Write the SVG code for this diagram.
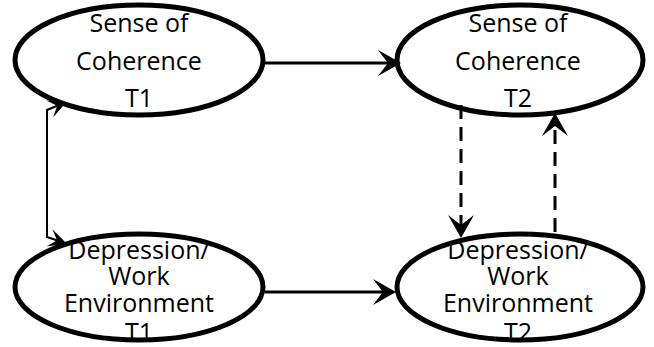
<svg xmlns="http://www.w3.org/2000/svg" width="654" height="347" viewBox="0 0 654 347">
  <defs>
    <marker id="ah" viewBox="-13 -14 25 28" refX="0" refY="0" markerWidth="25" markerHeight="28" markerUnits="userSpaceOnUse" orient="auto-start-reverse">
      <path d="M11,0 L-12,-13 L-2,0 L-12,13 Z" fill="#000"/>
    </marker>
    <marker id="ahs" viewBox="-11 -11 20 22" refX="0" refY="0" markerWidth="20" markerHeight="22" markerUnits="userSpaceOnUse" orient="auto-start-reverse">
      <path d="M8,0 L-10,-9 L-2,0 L-10,9 Z" fill="#000"/>
    </marker>
  </defs>
  <style>
    .bg { fill: #fff; stroke: none; }
    .ring { fill: none; stroke: #000; stroke-width: 5; }
    .lbl { font-family: "Open Sans", "Noto Sans", sans-serif; font-size: 25px; fill: #000; text-anchor: middle; }
    .edge { fill: none; stroke: #000; stroke-width: 3; }
    .dash { stroke-dasharray: 14 8; }
    .thin { fill: none; stroke: #000; stroke-width: 2; }
  </style>

  <g id="soc-t1">
    <ellipse class="bg" cx="139" cy="60" rx="124" ry="55"/>
    <text class="lbl" x="139" y="32">Sense of</text>
    <text class="lbl" x="139" y="70">Coherence</text>
    <text class="lbl" x="139" y="107">T1</text>
    <ellipse class="ring" cx="139" cy="60" rx="124" ry="55"/>
  </g>

  <g id="soc-t2">
    <ellipse class="bg" cx="520" cy="60" rx="123" ry="55"/>
    <text class="lbl" x="518" y="32">Sense of</text>
    <text class="lbl" x="518" y="70">Coherence</text>
    <text class="lbl" x="518" y="107">T2</text>
    <ellipse class="ring" cx="520" cy="60" rx="123" ry="55"/>
  </g>

  <g id="dep-t1">
    <ellipse class="bg" cx="139" cy="287" rx="124" ry="53"/>
    <text class="lbl" x="139" y="259">Depression/</text>
    <text class="lbl" x="139" y="285">Work</text>
    <text class="lbl" x="139" y="312">Environment</text>
    <text class="lbl" x="139" y="341">T1</text>
    <ellipse class="ring" cx="139" cy="287" rx="124" ry="53"/>
  </g>

  <g id="dep-t2">
    <ellipse class="bg" cx="520" cy="287" rx="123" ry="53"/>
    <text class="lbl" x="518" y="259">Depression/</text>
    <text class="lbl" x="518" y="285">Work</text>
    <text class="lbl" x="518" y="312">Environment</text>
    <text class="lbl" x="518" y="341">T2</text>
    <ellipse class="ring" cx="520" cy="287" rx="123" ry="53"/>
  </g>

  <g id="connectors">
    <path class="edge" d="M265,63 L390,63" marker-end="url(#ah)"/>
    <path class="edge" d="M265,292 L385,292" marker-end="url(#ah)"/>
    <path class="edge dash" d="M461,105 L461,227" marker-end="url(#ah)"/>
    <path class="edge dash" d="M555,232 L555,124" marker-end="url(#ah)"/>
    <path class="thin" d="M59,105 L47,110 L47,237 L59,241" marker-start="url(#ahs)" marker-end="url(#ahs)"/>
  </g>
</svg>
